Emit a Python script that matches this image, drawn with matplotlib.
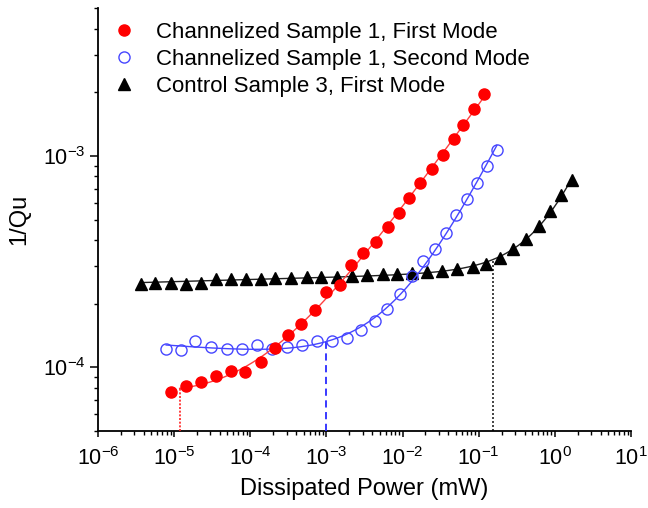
import numpy as np
import matplotlib
matplotlib.use('Agg')
import matplotlib.pyplot as plt
from matplotlib.ticker import LogLocator, NullFormatter

plt.rcParams['font.family'] = ['Liberation Sans', 'DejaVu Sans']
plt.rcParams['mathtext.fontset'] = 'custom'
plt.rcParams['mathtext.rm'] = 'Liberation Sans'
plt.rcParams['mathtext.it'] = 'Liberation Sans:italic'
plt.rcParams['mathtext.bf'] = 'Liberation Sans:bold'

# ---------------- data ----------------
labels = ["Channelized Sample 1, First Mode",
          "Channelized Sample 1, Second Mode",
          "Control Sample 3, First Mode"]

red_power = [9.0e-6, 1.43e-5, 2.27e-5, 3.56e-5, 5.55e-5, 8.63e-5, 1.37e-4, 2.14e-4,
             3.14e-4, 4.61e-4, 7.05e-4, 9.9e-4, 1.51e-3, 2.13e-3, 3.06e-3, 4.50e-3,
             6.34e-3, 9.02e-3, 1.23e-2, 1.70e-2, 2.43e-2, 3.39e-2, 4.67e-2, 6.31e-2,
             8.55e-2, 0.118]
red_invq = [7.59e-5, 8.16e-5, 8.49e-5, 9.03e-5, 9.57e-5, 9.51e-5, 1.057e-4, 1.236e-4,
            1.413e-4, 1.606e-4, 1.87e-4, 2.27e-4, 2.46e-4, 3.05e-4, 3.46e-4, 3.90e-4,
            4.61e-4, 5.35e-4, 6.32e-4, 7.45e-4, 8.71e-4, 1.008e-3, 1.204e-3, 1.40e-3,
            1.66e-3, 1.96e-3]

blue_power = [7.84e-6, 1.22e-5, 1.90e-5, 3.08e-5, 4.91e-5, 7.80e-5, 1.22e-4, 1.93e-4,
              3.08e-4, 4.80e-4, 7.48e-4, 1.19e-3, 1.85e-3, 2.88e-3, 4.33e-3, 6.28e-3,
              9.29e-3, 1.31e-2, 1.87e-2, 2.68e-2, 3.72e-2, 5.06e-2, 7.00e-2, 9.46e-2,
              0.127, 0.173]
blue_invq = [1.213e-4, 1.209e-4, 1.328e-4, 1.244e-4, 1.222e-4, 1.222e-4, 1.267e-4, 1.216e-4,
             1.244e-4, 1.267e-4, 1.328e-4, 1.328e-4, 1.372e-4, 1.504e-4, 1.652e-4, 1.89e-4,
             2.21e-4, 2.70e-4, 3.17e-4, 3.61e-4, 4.32e-4, 5.28e-4, 6.24e-4, 7.44e-4,
             8.99e-4, 1.072e-3]

black_power = [3.64e-6, 5.66e-6, 9.0e-6, 1.43e-5, 2.24e-5, 3.56e-5, 5.55e-5, 8.81e-5,
               1.37e-4, 2.14e-4, 3.40e-4, 5.52e-4, 8.43e-4, 1.37e-3, 2.16e-3, 3.40e-3,
               5.51e-3, 8.57e-3, 1.32e-2, 2.12e-2, 3.28e-2, 5.18e-2, 8.39e-2, 0.126,
               0.192, 0.286, 0.421, 0.611, 0.871, 1.20, 1.68]
black_invq = [2.48e-4, 2.51e-4, 2.51e-4, 2.48e-4, 2.51e-4, 2.60e-4, 2.61e-4, 2.62e-4,
              2.62e-4, 2.64e-4, 2.64e-4, 2.67e-4, 2.67e-4, 2.68e-4, 2.69e-4, 2.72e-4,
              2.75e-4, 2.77e-4, 2.79e-4, 2.82e-4, 2.84e-4, 2.90e-4, 2.98e-4, 3.07e-4,
              3.30e-4, 3.64e-4, 4.06e-4, 4.64e-4, 5.47e-4, 6.51e-4, 7.67e-4]

# onset powers marked by vertical drop lines (red, blue, black)
onset_power = [1.18e-5, 1.0e-3, 0.155]


# ---------------- fits (two power-law terms, least squares) ----------------
def fit_curve(x, y):
    x = np.asarray(x, float)
    y = np.asarray(y, float)
    best = None
    for m in np.linspace(-0.15, 0.3, 46):
        for n in np.linspace(0.2, 1.6, 71):
            A = np.column_stack([x ** m / y, x ** n / y])
            coef, *_ = np.linalg.lstsq(A, np.ones_like(y), rcond=None)
            s = np.sum((A @ coef - 1) ** 2)
            if coef.min() > 0 and (best is None or s < best[0]):
                best = (s, m, n, coef)
    _, m, n, c = best
    return lambda t: c[0] * t ** m + c[1] * t ** n


f_red = fit_curve(red_power, red_invq)
f_blue = fit_curve(blue_power, blue_invq)
f_black = fit_curve(black_power, black_invq)

# ---------------- figure ----------------
fig = plt.figure(figsize=(6.48, 5.08), dpi=100)
ax = fig.add_axes([98 / 648, 1 - 430.7 / 508, (631 - 98) / 648, (430.7 - 8.3) / 508])
ax.set_xscale('log')
ax.set_yscale('log')
ymin, ymax = 5e-5, 5e-3
ax.set_xlim(1e-6, 1e1)
ax.set_ylim(ymin, ymax)

red_c = '#ff0000'
blue_c = '#4646ff'
black_c = '#000000'

# black
xb = np.logspace(np.log10(black_power[0]), np.log10(black_power[-1]), 300)
ax.plot(xb, f_black(xb), color='#222222', lw=1.0, zorder=2)
ax.plot([onset_power[2]] * 2, [ymin, f_black(onset_power[2])], color='#222222',
        lw=1.2, ls=(0, (1.2, 1.2)), zorder=2)
ax.plot(black_power, black_invq, ls='none', marker='^', ms=8.5, color=black_c,
        mec=black_c, label=labels[2], zorder=3)

# blue
xbl = np.logspace(np.log10(blue_power[0]), np.log10(blue_power[-1]), 300)
ax.plot(xbl, f_blue(xbl), color=blue_c, lw=1.0, zorder=4)
ax.plot([onset_power[1]] * 2, [ymin, f_blue(onset_power[1])], color='#2a2aff',
        lw=1.3, ls=(0, (4, 2.5)), zorder=4)
ax.plot(blue_power, blue_invq, ls='none', marker='o', ms=8, mfc='none', mec=blue_c,
        mew=1.0, label=labels[1], zorder=5)

# red
xr = np.logspace(np.log10(onset_power[0]), np.log10(red_power[-1]), 300)
ax.plot(xr, f_red(xr), color='#ff4040', lw=1.0, zorder=6)
ax.plot([onset_power[0]] * 2, [ymin, f_red(onset_power[0])], color='#ff2020',
        lw=1.2, ls=(0, (1.2, 1.0)), zorder=6)
ax.plot(red_power, red_invq, ls='none', marker='o', ms=8, color=red_c, mec=red_c,
        label=labels[0], zorder=7)

# axes styling
for s in ['top', 'right']:
    ax.spines[s].set_visible(False)
for s in ['left', 'bottom']:
    ax.spines[s].set_linewidth(1.3)

ax.xaxis.set_major_locator(LogLocator(base=10, numticks=20))
ax.xaxis.set_minor_locator(LogLocator(base=10, subs=np.arange(2, 10), numticks=20))
ax.yaxis.set_major_locator(LogLocator(base=10, numticks=20))
ax.yaxis.set_minor_locator(LogLocator(base=10, subs=np.arange(2, 10), numticks=20))
ax.xaxis.set_minor_formatter(NullFormatter())
ax.yaxis.set_minor_formatter(NullFormatter())

ax.tick_params(axis='x', which='major', direction='out', length=4.5, width=1.1,
               labelsize=15.5, pad=7)
ax.tick_params(axis='x', which='minor', direction='out', length=2.7, width=1.0)
ax.tick_params(axis='y', which='major', direction='out', length=6, width=1.1,
               labelsize=15.5, pad=3)
ax.tick_params(axis='y', which='minor', direction='out', length=2.7, width=1.0)

ax.set_xlabel('Dissipated Power (mW)', fontsize=17, labelpad=6)
ax.set_ylabel('1/Qu', fontsize=17, labelpad=9)

# legend in the order of the reference
h, l = ax.get_legend_handles_labels()
order = [l.index(t) for t in labels]
leg = fig.legend([h[i] for i in order], [l[i] for i in order],
                 loc='upper left', bbox_to_anchor=(113 / 648, 1 - 22 / 508),
                 bbox_transform=fig.transFigure, frameon=False, fontsize=16,
                 handlelength=1.0, handletextpad=0.95, labelspacing=0.26,
                 borderpad=0, borderaxespad=0, numpoints=1)

fig.savefig('out.png', dpi=100)
